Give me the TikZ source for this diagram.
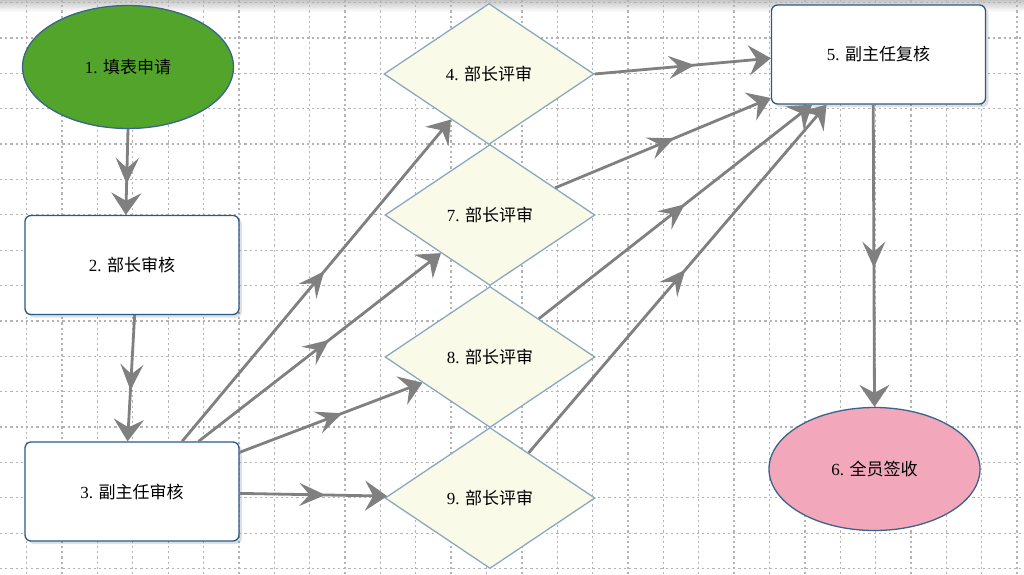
\documentclass[tikz,border=0pt]{standalone}
\usepackage{fontspec}
\setmainfont{Liberation Serif}
\newfontfamily\cjk{Noto Sans CJK SC}
\usetikzlibrary{shapes.geometric,arrows.meta,decorations.markings,shadows,calc}
\definecolor{startgreen}{RGB}{82,164,42}
\definecolor{endpink}{RGB}{242,167,187}
\definecolor{ellborder}{RGB}{58,100,140}
\definecolor{boxborder}{RGB}{40,90,135}
\definecolor{diafill}{RGB}{250,250,233}
\definecolor{diaborder}{RGB}{140,168,190}
\definecolor{arrowgray}{RGB}{128,128,128}
\definecolor{gridgray}{RGB}{180,180,180}
\tikzset{
  lbl/.style={font=\fontsize{17}{20}\selectfont, text=black},
  termnode/.style={ellipse, draw=ellborder, line width=1.3pt, minimum width=211pt, minimum height=123pt, inner sep=0pt, lbl},
  stepbox/.style={rectangle, rounded corners=6pt, draw=boxborder, line width=1.3pt, fill=white, minimum width=214pt, minimum height=99pt, inner sep=0pt, lbl,
    drop shadow={shadow xshift=3pt, shadow yshift=-3pt, opacity=0.12, fill=black}},
  reviewnode/.style={diamond, aspect=1.5, draw=diaborder, line width=1.3pt, fill=diafill, minimum width=210pt, minimum height=141pt, inner sep=0pt, lbl},
  flow/.style={draw=arrowgray, line width=2.8pt, -{Stealth[length=22pt,width=30pt,inset=8pt]},
    postaction={decorate, decoration={markings, mark=at position 0.5 with {\pgftransformxshift{12pt}\arrow{Stealth[length=26pt,width=23pt,inset=10pt]}}}}},
  gridline/.style={draw=gridgray, line width=1.3pt, dash pattern=on 2.2pt off 3pt},
}
\begin{document}
\begin{tikzpicture}[x=1pt,y=-1pt]
\useasboundingbox (0,0) rectangle (1024,574);
\fill[white] (0,0) rectangle (1024,574);
\shade[top color=gray!45, bottom color=white] (0,0) rectangle (1024,12);
% grid
\foreach \k in {0,...,28} {
  \draw[gridline] ({26.7+35.37*\k},0) -- ({26.7+35.37*\k},574);
}
\foreach \k in {0,...,16} {
  \draw[gridline] (0,{2.6+35.37*\k}) -- (1024,{2.6+35.37*\k});
}
% nodes
\node[termnode, fill=startgreen] (n1) at (128,67) {1. {\cjk 填表申请}};
\node[stepbox] (n2) at (132,265) {2. {\cjk 部长审核}};
\node[stepbox] (n3) at (132,491.5) {3. {\cjk 副主任审核}};
\node[reviewnode] (n4) at (489,74) {4. {\cjk 部长评审}};
\node[reviewnode] (n7) at (490,215) {7. {\cjk 部长评审}};
\node[reviewnode] (n8) at (490,357) {8. {\cjk 部长评审}};
\node[reviewnode] (n9) at (490,498) {9. {\cjk 部长评审}};
\node[stepbox] (n5) at (878.5,54.5) {5. {\cjk 副主任复核}};
\node[termnode, fill=endpink] (n6) at (874.5,469) {6. {\cjk 全员签收}};
% connectors
\draw[flow] (n1.south) -- (n2.97);
\draw[flow] (n2.-87) -- (n3.95);
\draw[flow] (n3.45) -- (n4);
\draw[flow] (n3.37) -- (n7);
\draw[flow] (n3.20) -- (n8);
\draw[flow] (n3.-1) -- (n9);
\draw[flow] (n4.east) -- (n5.182);
\draw[flow] (n7) -- (n5.202);
\draw[flow] (n8) -- (n5.217);
\draw[flow] (n9) -- (n5.224);
\draw[flow] (n5.-96) -- (n6.north);
\end{tikzpicture}
\end{document}
